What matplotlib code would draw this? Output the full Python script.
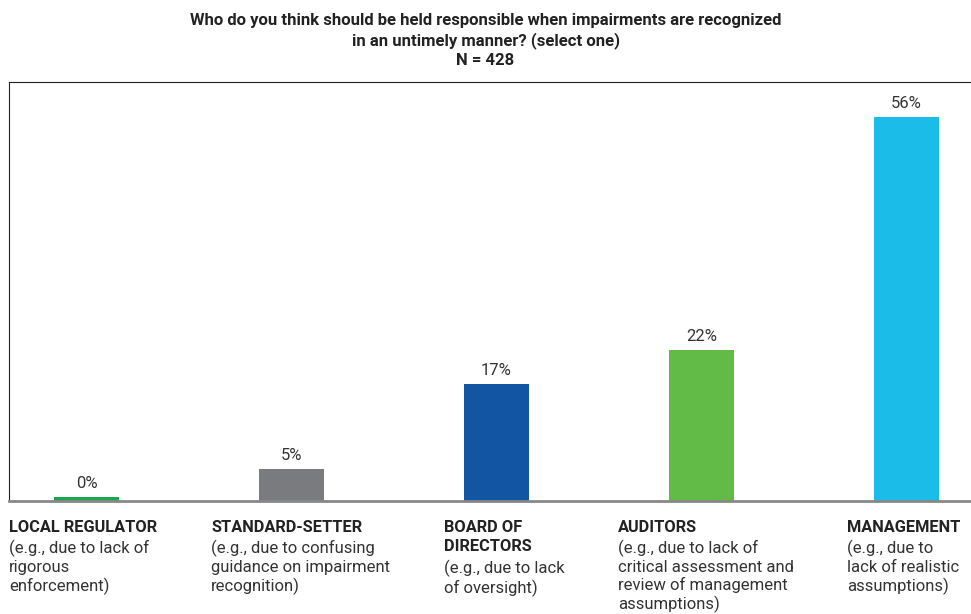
import matplotlib.pyplot as plt
import numpy as np

categories = ['LOCAL REGULATOR', 'STANDARD-SETTER', 'BOARD OF\nDIRECTORS', 'AUDITORS', 'MANAGEMENT']
notes = ['(e.g., due to lack of\nrigorous\nenforcement)',
         '(e.g., due to confusing\nguidance on impairment\nrecognition)',
         '(e.g., due to lack\nof oversight)',
         '(e.g., due to lack of\ncritical assessment and\nreview of management\nassumptions)',
         '(e.g., due to\nlack of realistic\nassumptions)']
values = [0.6, 4.7, 17, 22, 56]
labels = ['0%', '5%', '17%', '22%', '56%']
colors = ['#1aa84a', '#7a7b7e', '#1255a3', '#62bb46', '#1bbce8']

plt.rcParams['font.family'] = ['Roboto', 'DejaVu Sans']

fig = plt.figure(figsize=(9.71, 6.14), dpi=100)
ax = fig.add_axes([9 / 971, 113 / 614, 976 / 971, 419 / 614])

x = np.arange(len(values))
ax.bar(x, values, width=0.317, color=colors, zorder=2)
for xi, v, lab in zip(x, values, labels):
    ax.text(xi, v + 0.9, lab, ha='center', va='bottom', fontsize=12, color='#333333')

ax.set_xlim(-0.378, 4.383)
ax.set_ylim(0, 61.1)
ax.set_xticks([])
ax.set_yticks([])
ax.spines['right'].set_visible(False)
ax.spines['top'].set_color('#222222')
ax.spines['left'].set_color('#222222')
ax.spines['bottom'].set_color('#888888')
ax.spines['bottom'].set_linewidth(2)
ax.spines['bottom'].set_zorder(3)

fig.text(0.5, 1 - 13 / 614,
         'Who do you think should be held responsible when impairments are recognized\n'
         'in an untimely manner? (select one)\nN = 428',
         ha='center', va='top', fontsize=12, fontweight='bold', color='#222222',
         linespacing=1.3)

label_x = [9, 211, 444, 618, 847]
for lx, cat, note in zip(label_x, categories, notes):
    fig.text(lx / 971, 1 - 520 / 614, cat, ha='left', va='top', fontsize=11.8,
             fontweight='bold', color='#222222', linespacing=1.35)
    nlines = cat.count('\n') + 1
    fig.text(lx / 971, 1 - (540 + 20 * (nlines - 1)) / 614, note, ha='left', va='top',
             fontsize=12, color='#333333', linespacing=1.2)

fig.savefig('out.png', dpi=100)
